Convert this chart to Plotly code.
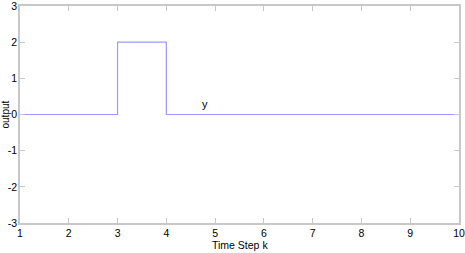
import plotly.graph_objects as go

k = [1, 2, 3, 4, 5, 6, 7, 8, 9, 10]
y = [0, 0, 2, 0, 0, 0, 0, 0, 0, 0]
x_ticks = [1, 2, 3, 4, 5, 6, 7, 8, 9, 10]
y_ticks = [-3, -2, -1, 0, 1, 2, 3]
y_tick_text = ["-3", "-2", "-1", "0", "1", "2", "3"]

FONT = "Liberation Sans, Arial"
fig = go.Figure()
fig.add_trace(go.Scatter(x=k, y=y, mode="lines", line=dict(color="#9a9aff", width=1.2, shape="hv"),
                         showlegend=False, hoverinfo="skip"))
fig.add_annotation(x=4.8, y=0.28, text="y", showarrow=False, font=dict(size=11, color="#000"))
fig.add_annotation(xref="paper", yref="paper", x=0.5, y=0, yshift=-14, yanchor="top",
                   text="Time Step k", showarrow=False, font=dict(family=FONT, size=10.5, color="#000"))
fig.add_annotation(xref="paper", yref="paper", x=0, y=0.5, xshift=-15, xanchor="center",
                   text="output", textangle=-90, showarrow=False, font=dict(family=FONT, size=10, color="#000"))

axis_common = dict(showgrid=False, zeroline=False, showline=True, linecolor="#c8c8c8", linewidth=1.5,
                   mirror="ticks", ticks="inside", ticklen=5, tickcolor="#c8c8c8", automargin=False,
                   ticklabeloverflow="allow",
                   tickfont=dict(family=FONT, size=10.5, color="#000"))
fig.update_xaxes(range=[1, 10], tickvals=x_ticks, **axis_common)
fig.update_yaxes(range=[-3, 3], tickvals=y_ticks, ticktext=y_tick_text, ticklabelstandoff=-1, **axis_common)
fig.update_layout(width=465, height=253, margin=dict(l=20, r=6, t=6, b=30, autoexpand=False),
                  plot_bgcolor="white", paper_bgcolor="white",
                  font=dict(family=FONT, size=11, color="#000"))
fig.write_html("out.html", config={"displayModeBar": False},
               post_script="document.body.style.margin='0';")
